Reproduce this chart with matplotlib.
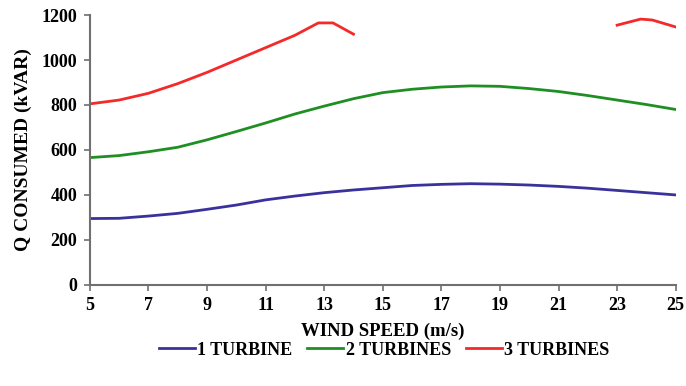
import numpy as np
import matplotlib
matplotlib.use("Agg")
import matplotlib.pyplot as plt

wind = [5, 6, 7, 8, 9, 10, 11, 12, 13, 14, 15, 16, 17, 18, 19, 20, 21, 22, 23, 24, 25]
one_turbine = [295, 296, 306, 318, 336, 355, 378, 395, 410, 422, 432, 442, 447, 450, 448, 444, 438, 430, 420, 410, 400]
two_turbines = [566, 575, 592, 612, 645, 682, 720, 760, 795, 828, 855, 870, 880, 885, 883, 873, 860, 842, 822, 802, 780]
three_x = [5, 6, 7, 8, 9, 10, 11, 12, 12.8, 13.3, 14, 18, 23, 23.8, 24.2, 25]
three_turbines = [805, 822, 852, 895, 945, 1000, 1055, 1110, 1165, 1165, 1115, np.nan, 1155, 1182, 1178, 1147]

labels = ["1 TURBINE", "2 TURBINES", "3 TURBINES"]
colors = ["#3A329C", "#1F8F24", "#F42A2A"]

plt.rcParams['font.family'] = ['Liberation Serif', 'DejaVu Serif']

fig = plt.figure(figsize=(6.86, 3.86), dpi=100)
ax = fig.add_axes([0.131, 0.262, 0.854, 0.699])

ax.plot(wind, one_turbine, color=colors[0], lw=2, label=labels[0])
ax.plot(wind, two_turbines, color=colors[1], lw=2, label=labels[1])
ax.plot(three_x, three_turbines, color=colors[2], lw=2, label=labels[2])

ax.set_xlim(5, 25)
ax.set_ylim(0, 1200)
ax.set_xticks(range(5, 26, 2))
ax.set_yticks(range(0, 1201, 200))

for s in ['top', 'right']:
    ax.spines[s].set_visible(False)
for s in ['left', 'bottom']:
    ax.spines[s].set_color('#707070')
    ax.spines[s].set_linewidth(1.5)

ax.tick_params(axis='both', which='major', direction='out', length=4, width=1.2,
               color='#707070', labelsize=13, pad=5)
for lab in ax.get_xticklabels() + ax.get_yticklabels():
    lab.set_fontweight('bold')

ax.set_xlabel("WIND SPEED (m/s)", fontsize=13.5, fontweight='bold', labelpad=6)
ax.set_ylabel("Q CONSUMED (kVAR)", fontsize=14, fontweight='bold', labelpad=7)

fig.legend(loc='center', bbox_to_anchor=(0.56, 0.093), ncol=3, frameon=False,
           handlelength=2.0, columnspacing=0.8, handletextpad=0.15,
           prop={'weight': 'bold', 'size': 13})

fig.savefig("out.png", dpi=100)
